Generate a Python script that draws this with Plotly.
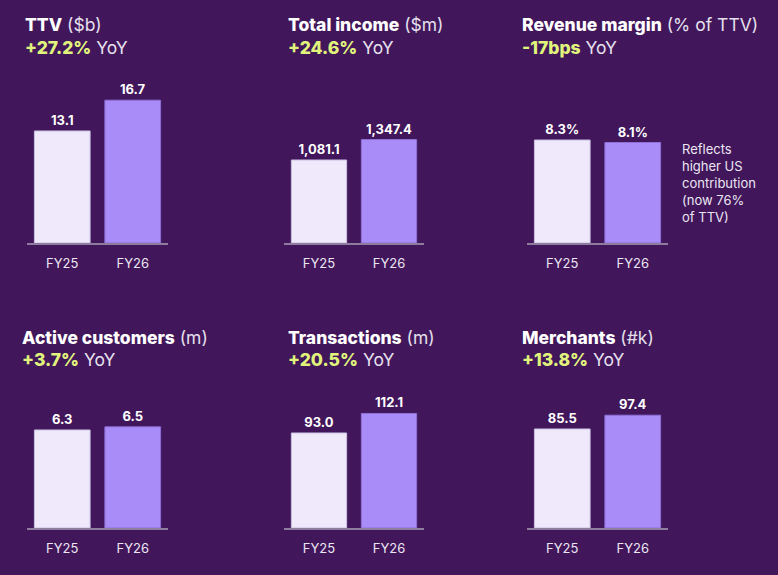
import plotly.graph_objects as go

W, H = 778, 575
categories = ["FY25", "FY26"]

ttv = [13.1, 16.7]
total_income = [1081.1, 1347.4]
revenue_margin = [8.3, 8.1]
active_customers = [6.3, 6.5]
transactions = [93.0, 112.1]
merchants = [85.5, 97.4]

ttv_labels = ["13.1", "16.7"]
income_labels = ["1,081.1", "1,347.4"]
margin_labels = ["8.3%", "8.1%"]
customers_labels = ["6.3", "6.5"]
transactions_labels = ["93.0", "112.1"]
merchants_labels = ["85.5", "97.4"]

titles = ["TTV", "Total income", "Revenue margin", "Active customers", "Transactions", "Merchants"]
units = ["($b)", "($m)", "(% of TTV)", "(m)", "(m)", "(#k)"]
growth = ["+27.2%", "+24.6%", "-17bps", "+3.7%", "+20.5%", "+13.8%"]
note_lines = ["Reflects", "higher US", "contribution", "(now 76%", "of TTV)"]

series = [ttv, total_income, revenue_margin, active_customers, transactions, merchants]
labels = [ttv_labels, income_labels, margin_labels, customers_labels, transactions_labels, merchants_labels]
yranges = [21.4, 2384, 14.75, 11.76, 179.1, 158.0]

BG = "#41165a"
C25 = "#efe9fb"
C26 = "#aa8cf8"
GREEN = "#e0f47c"
FONT = "Inter"

# panel pixel layout: (x0, x1, baseline_y, top_y, title_x, title_y)
panels = [
    (27, 168, 243, 60, 23, 25),
    (284, 424, 243, 60, 286, 25),
    (527, 668, 243, 60, 520, 25),
    (27, 168, 528, 345, 20, 337),
    (284, 424, 528, 345, 286, 337),
    (527, 668, 528, 345, 520, 337),
]

fig = go.Figure()
annotations = []
for i, (vals, labs, ymax, p) in enumerate(zip(series, labels, yranges, panels)):
    x0, x1, yb, yt, tx, ty = p
    n = "" if i == 0 else str(i + 1)
    fig.add_trace(go.Bar(
        x=categories, y=vals, text=labs, textposition="outside",
        textfont=dict(family=FONT, size=13, color="white", weight="bold"),
        marker=dict(color=[C25, C26], line=dict(color=["#c9bfe0", "#8e70d8"], width=1)),
        width=0.79, cliponaxis=False, hoverinfo="skip",
        xaxis="x" + n, yaxis="y" + n, showlegend=False,
    ))
    fig.layout["xaxis" + n] = dict(
        domain=[x0 / W, x1 / W], anchor="y" + n, range=[-0.5, 1.5],
        showline=True, linecolor="#8d7c9e", linewidth=2, showgrid=False, zeroline=False,
        ticks="outside", ticklen=7, tickcolor="rgba(0,0,0,0)",
        tickfont=dict(family=FONT, size=13, color="#ece6f4"), fixedrange=True,
    )
    fig.layout["yaxis" + n] = dict(
        domain=[1 - yb / H, 1 - yt / H], anchor="x" + n, range=[0, ymax],
        visible=False, showgrid=False, zeroline=False, fixedrange=True,
    )
    annotations.append(dict(
        x=tx / W, y=1 - ty / H, xref="paper", yref="paper", xanchor="left", yanchor="middle",
        showarrow=False, font=dict(family=FONT, size=17.5, color="#e6e0ee"),
        text=f"<span style='font-weight:800;fill:#ffffff'>{titles[i]}</span> {units[i]}",
    ))
    annotations.append(dict(
        x=tx / W, y=1 - (ty + 22) / H, xref="paper", yref="paper", xanchor="left", yanchor="middle",
        showarrow=False, font=dict(family=FONT, size=17.5, color="#e6e0ee"),
        text=f"<span style='font-weight:800;fill:{GREEN}'>{growth[i]}</span> YoY",
    ))

annotations.append(dict(
    x=680 / W, y=1 - 139 / H, xref="paper", yref="paper", xanchor="left", yanchor="top",
    showarrow=False, align="left", font=dict(family=FONT, size=13, color="#ece6f4"),
    text="<br>".join(note_lines),
))

fig.update_layout(
    width=W, height=H, margin=dict(l=0, r=0, t=0, b=0),
    paper_bgcolor=BG, plot_bgcolor=BG, annotations=annotations,
    font=dict(family=FONT),
)
fig.write_html(
    "out.html", config={"displayModeBar": False},
    post_script="document.body.style.margin='0';document.body.style.padding='0';document.body.style.overflow='hidden';",
)
